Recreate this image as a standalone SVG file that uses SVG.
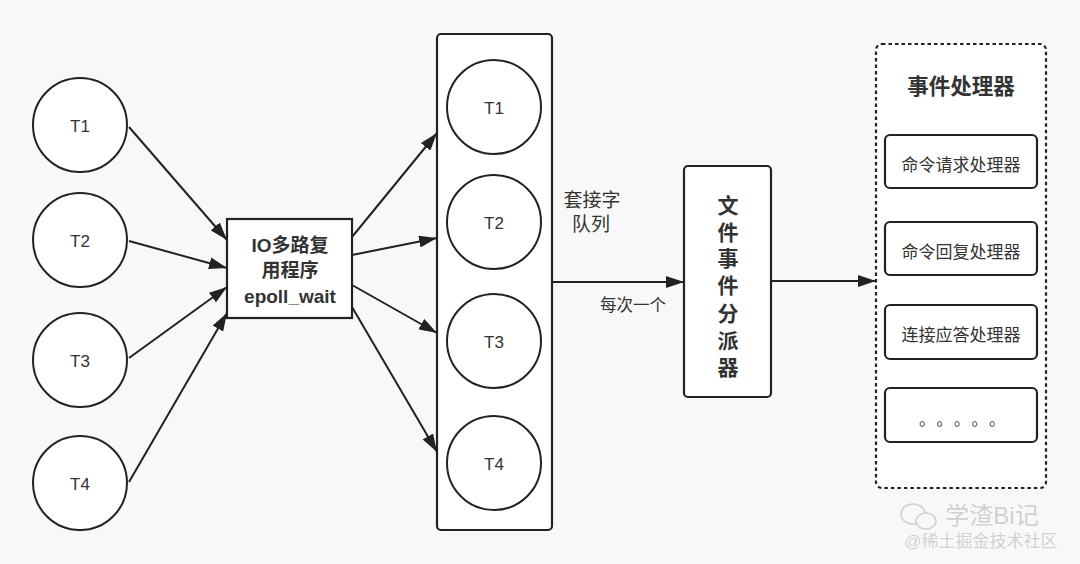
<svg xmlns="http://www.w3.org/2000/svg" width="1080" height="564" viewBox="0 0 1080 564">
<style>
text{font-family:"Liberation Sans","Noto Sans CJK SC",sans-serif;fill:#333;text-anchor:middle;dominant-baseline:central}
.c{fill:#fff;stroke:#222;stroke-width:2}
.b{fill:#fff;stroke:#222;stroke-width:2.2}
.t{font-size:17px}
.h{font-size:17px}
.bold{font-weight:bold}
.e{stroke:#222;stroke-width:2;fill:none;marker-end:url(#ah)}
.wm{fill:#d0d0d0;stroke:#fff;stroke-width:0.6;paint-order:stroke}
</style>
<defs>
<marker id="ah" viewBox="0 0 18 12" refX="18" refY="6" markerWidth="18" markerHeight="12" markerUnits="userSpaceOnUse" orient="auto">
<path d="M0,0 L18,6 L0,12 z" fill="#222"/>
</marker>
</defs>
<rect width="1080" height="564" fill="#f8f8f8"/>

<g id="src-T1"><circle class="c" cx="80" cy="125" r="47"/><text class="t" x="80" y="126">T1</text></g>
<g id="src-T2"><circle class="c" cx="80" cy="240" r="47"/><text class="t" x="80" y="241">T2</text></g>
<g id="src-T3"><circle class="c" cx="80" cy="360" r="47"/><text class="t" x="80" y="361">T3</text></g>
<g id="src-T4"><circle class="c" cx="80" cy="483" r="47"/><text class="t" x="80" y="484">T4</text></g>

<g id="io">
<rect class="b" x="227" y="219" width="125" height="99"/>
<text class="bold" font-size="19" x="290" y="245">IO多路复</text>
<text class="bold" font-size="19" x="290" y="270">用程序</text>
<text class="bold" font-size="19" x="290" y="296">epoll_wait</text>
</g>

<g id="queue">
<rect class="b" x="437" y="34" width="115" height="496" rx="4"/>
<circle class="c" cx="494" cy="107" r="47"/><text class="t" x="494" y="108">T1</text>
<circle class="c" cx="494" cy="222" r="47"/><text class="t" x="494" y="223">T2</text>
<circle class="c" cx="494" cy="341" r="47"/><text class="t" x="494" y="342">T3</text>
<circle class="c" cx="494" cy="463" r="47"/><text class="t" x="494" y="464">T4</text>
</g>

<g id="queue-label">
<text font-size="19" x="592" y="200">套接字</text>
<text font-size="19" x="591" y="224">队列</text>
</g>

<g id="dispatcher">
<rect class="b" x="684" y="166" width="87" height="231" rx="4"/>
<text class="bold" font-size="21" x="728" y="205">文</text>
<text class="bold" font-size="21" x="728" y="232">件</text>
<text class="bold" font-size="21" x="728" y="258">事</text>
<text class="bold" font-size="21" x="728" y="285">件</text>
<text class="bold" font-size="21" x="728" y="313">分</text>
<text class="bold" font-size="21" x="728" y="340">派</text>
<text class="bold" font-size="21" x="728" y="367">器</text>
</g>

<g id="handlers">
<rect x="876" y="44" width="170" height="444" rx="6" fill="#fff" stroke="#222" stroke-width="2.2" stroke-dasharray="3.5 3"/>
<text class="bold" font-size="21.5" x="961" y="87">事件处理器</text>
<g id="h1"><rect class="b" x="885" y="135" width="152" height="53" rx="5"/><text class="h" x="961" y="165">命令请求处理器</text></g>
<g id="h2"><rect class="b" x="885" y="222" width="152" height="53" rx="5"/><text class="h" x="961" y="252">命令回复处理器</text></g>
<g id="h3"><rect class="b" x="885" y="305" width="152" height="54" rx="5"/><text class="h" x="961" y="335">连接应答处理器</text></g>
<g id="h4"><rect class="b" x="885" y="388" width="152" height="54" rx="5"/><text font-size="16" x="927 944.5 962 979.5 997" y="419">。。。。。</text></g>
</g>

<g id="connectors">
<line class="e" x1="129" y1="127" x2="227" y2="240"/>
<line class="e" x1="129" y1="241" x2="227" y2="268"/>
<line class="e" x1="129" y1="358" x2="227" y2="287"/>
<line class="e" x1="129" y1="482" x2="227" y2="313"/>
<line class="e" x1="352" y1="237" x2="437" y2="133"/>
<line class="e" x1="352" y1="255" x2="437" y2="238"/>
<line class="e" x1="352" y1="285" x2="437" y2="333"/>
<line class="e" x1="352" y1="307" x2="437" y2="452"/>
<line class="e" x1="552" y1="282" x2="684" y2="282"/>
<line class="e" x1="771" y1="281" x2="876" y2="281"/>
<text font-size="16.5" x="633" y="305">每次一个</text>
</g>

<g id="watermark">
<ellipse cx="913" cy="514" rx="12" ry="10" fill="none" stroke="#d0d0d0" stroke-width="1.5"/>
<ellipse cx="926" cy="521" rx="10" ry="8" fill="#f8f8f8" stroke="#d0d0d0" stroke-width="1.5"/>
<text class="wm" font-size="24" x="992" y="515">学渣Bi记</text>
<text class="wm" font-size="17" x="981" y="541">@稀土掘金技术社区</text>
</g>
</svg>
